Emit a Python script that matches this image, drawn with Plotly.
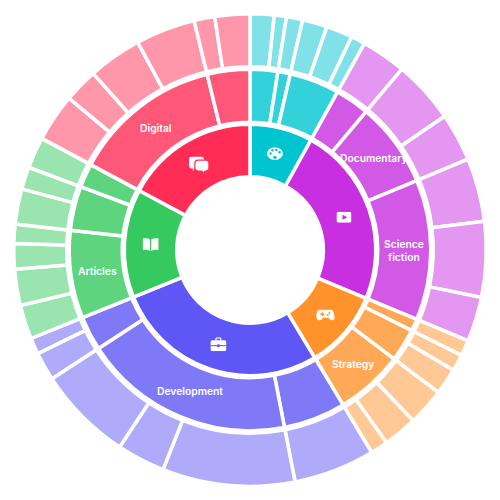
import base64
import math
import plotly.graph_objects as go

# Leaf values, grouped: category -> sub-category -> leaves (in degrees)
categories = ["Art", "Video", "Games", "Work", "Books", "Talk"]
art_values = [[5.9, 3.0], [4.0], [6.1, 6.5, 3.5]]
video_values = [[11.0], [15.5, 11.9], [15.6, 18.6, 11.0]]
games_values = [[3.9], [4.1, 6.5], [9.2, 8.4, 4.3]]
work_values = [[20.0], [32.6, 11.9, 23.5], [7.0, 4.0]]
books_values = [[8.4, 8.9, 6.3, 4.7], [8.7, 5.5], [7.7]]
talk_values = [[11.8, 8.4, 13.2, 14.7], [5.1, 8.6]]
groups = [art_values, video_values, games_values, work_values, books_values, talk_values]

art_labels = ["", "", ""]
video_labels = ["", "Documentary", "Science<br>fiction"]
games_labels = ["", "", "Strategy"]
work_labels = ["", "Development", ""]
books_labels = ["Articles", "", ""]
talk_labels = ["Digital", ""]
group_labels = [art_labels, video_labels, games_labels, work_labels, books_labels, talk_labels]

base_colors = ["#00C5D1", "#C72FE0", "#FF922B", "#5F57F5", "#36C95F", "#FF2D55"]

SIZE = 500
GAP = 3.5
FONT = "Inter, 'Noto Sans', sans-serif"
RINGS = [(75, 124), (129.5, 179), (185, 234.5)]  # visible inner/outer radii


def tint(hex_color, alpha):
    r, g, b = (int(hex_color[i:i + 2], 16) for i in (1, 3, 5))
    mix = lambda c: round(c * alpha + 255 * (1 - alpha))
    return f"rgb({mix(r)},{mix(g)},{mix(b)})"


inner_vals = [sum(sum(s) for s in g) for g in groups]
mid_vals, mid_cols, mid_text = [], [], []
leaf_vals, leaf_cols = [], []
for g, lab, c in zip(groups, group_labels, base_colors):
    for s, l in zip(g, lab):
        mid_vals.append(sum(s))
        mid_cols.append(tint(c, 0.8))
        mid_text.append(l)
        for v in s:
            leaf_vals.append(v)
            leaf_cols.append(tint(c, 0.5))


def ring(values, colors, radii, names):
    inner, outer = radii
    R = outer + GAP / 2
    r = inner - GAP / 2
    half = R / SIZE
    return go.Pie(
        values=values,
        labels=names,
        sort=False,
        direction="clockwise",
        rotation=0,
        hole=r / R,
        domain=dict(x=[0.5 - half, 0.5 + half], y=[0.5 - half, 0.5 + half]),
        marker=dict(colors=colors, line=dict(color="white", width=GAP)),
        textinfo="none",
        hoverinfo="label+value",
        showlegend=False,
    )


fig = go.Figure()
fig.add_trace(ring(leaf_vals, leaf_cols, RINGS[2], [f"leaf {i}" for i in range(len(leaf_vals))]))
fig.add_trace(ring(mid_vals, mid_cols, RINGS[1], [t.replace("<br>", " ") or f"group {i}" for i, t in enumerate(mid_text)]))
fig.add_trace(ring(inner_vals, base_colors, RINGS[0], categories))


def polar(start, width, radius):
    a = math.radians(start + width / 2)
    return 0.5 + radius * math.sin(a) / SIZE, 0.5 + radius * math.cos(a) / SIZE


annotations = []
total = sum(mid_vals)
pos = 0.0
mid_radius = sum(RINGS[1]) / 2
for v, t in zip(mid_vals, mid_text):
    if t:
        x, y = polar(pos, v, mid_radius)
        annotations.append(dict(x=x, y=y, xref="paper", yref="paper", text=t, showarrow=False,
                                xanchor="center", yanchor="middle",
                                font=dict(family=FONT, size=10.3, color="white", weight=600)))
    pos += v * 360 / total


def svg(w, h, body):
    s = f'<svg xmlns="http://www.w3.org/2000/svg" width="{w*4}" height="{h*4}" viewBox="0 0 {w} {h}">{body}</svg>'
    return "data:image/svg+xml;base64," + base64.b64encode(s.encode()).decode()


icons = [
    (16, 13, '<ellipse cx="8" cy="6.5" rx="8" ry="6.3" fill="#fff"/>'
             + "".join(f'<circle cx="{x}" cy="{y}" r="1.25" fill="#00C5D1"/>' for x, y in [(3.6, 6.4), (5.6, 3.2), (9.4, 2.8), (12.6, 5.2)])
             + '<circle cx="8" cy="10.2" r="1.7" fill="#00C5D1"/>'),
    (15, 11, '<rect width="15" height="11" rx="2" fill="#fff"/><path d="M6 3 L11 5.5 L6 8z" fill="#C72FE0"/>'),
    (19, 11, '<path d="M5 0h9c2.5 0 3.7 1.6 4.3 4.5s1 4.7-.6 6-3.5-.5-5-2.3H7.300C5.800 10 3.900 12 2.300 10.500S.1 7.400 .7 4.500 2.500 0 5 0z" fill="#fff"/>'
             '<path d="M5.900 2.800v1.300H4.600v1.300h1.300v1.300h1.300V5.400h1.300V4.100H7.200V2.800z" fill="#FF922B"/>'
             '<circle cx="13.600" cy="3.400" r="1" fill="#FF922B"/><circle cx="11.900" cy="5.400" r="1" fill="#FF922B"/>'),
    (16, 14, '<path d="M5.500 3V1.800C5.500 1 6 .6 6.800 .6h2.400c.8 0 1.300.4 1.300 1.200V3" fill="none" stroke="#fff" stroke-width="1.200"/>'
             '<rect y="3" width="16" height="11" rx="2" fill="#fff"/>'
             '<rect y="7.800" width="16" height="1" fill="#5F57F5"/><rect x="6.800" y="6.800" width="2.400" height="3" rx=".6" fill="#5F57F5"/>'),
    (16, 13, '<path d="M7.400 1.500C6 .4 3 0 .5 .4c-.3 0-.5.3-.5.6V11.800c2.500-.5 5.800-.2 7.400 1.200z" fill="#fff"/>'
             '<path d="M8.600 1.500C10 .4 13 0 15.500 .4c.3 0 .5.3.5.6V11.800c-2.500-.5-5.800-.2-7.400 1.200z" fill="#fff"/>'),
    (20, 16, '<path d="M3 0h9a3 3 0 0 1 3 3v6a3 3 0 0 1-3 3H5.500L4 15v-3H3a3 3 0 0 1-3-3V3a3 3 0 0 1 3-3z" fill="#fff"/>'
             '<path d="M9 3.500h8a3 3 0 0 1 3 3v5a3 3 0 0 1-3 3h-.8l-1.400 1.800-1.800-1.800H9a3 3 0 0 1-3-3v-5a3 3 0 0 1 3-3z" fill="#fff" stroke="#FF2D55" stroke-width="1.200"/>'),
]

images = []
pos = 0.0
icon_radius = sum(RINGS[0]) / 2
inner_total = sum(inner_vals)
for v, (w, h, body) in zip(inner_vals, icons):
    x, y = polar(pos, v, icon_radius)
    images.append(dict(source=svg(w, h, body), xref="paper", yref="paper", x=x, y=y,
                       sizex=w / SIZE, sizey=h / SIZE, xanchor="center", yanchor="middle",
                       sizing="stretch", layer="above"))
    pos += v * 360 / inner_total

fig.update_layout(
    width=SIZE, height=SIZE,
    margin=dict(l=0, r=0, t=0, b=0),
    paper_bgcolor="white",
    annotations=annotations,
    images=images,
)
fig.write_html("out.html", config=dict(displayModeBar=False),
               post_script="document.body.style.margin='0';document.documentElement.style.overflow='hidden';")
